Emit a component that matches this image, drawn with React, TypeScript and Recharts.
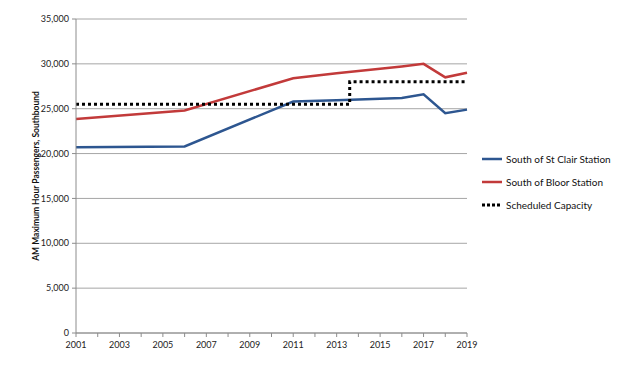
import { LineChart, Line, XAxis, YAxis, CartesianGrid } from "recharts";

const YEARS = [2001, 2006, 2011, 2013, 2016, 2017, 2018, 2019];
const ST_CLAIR = [20700, 20800, 25800, 25950, 26200, 26600, 24500, 24900];
const BLOOR = [23850, 24800, 28400, 28950, 29700, 30000, 28500, 29000];

const CAPACITY_YEARS = [2001, 2013.6, 2013.6, 2018.9];
const CAPACITY = [25500, 25500, 28000, 28000];

const X_TICKS = Array.from({ length: 19 }, (_, i) => 2001 + i);
const Y_TICKS = [0, 5000, 10000, 15000, 20000, 25000, 30000, 35000];

const LEGEND = [
  { name: "South of St Clair Station", color: "#2d5690", dash: undefined },
  { name: "South of Bloor Station", color: "#c23a3a", dash: undefined },
  { name: "Scheduled Capacity", color: "#000000", dash: "3 2" },
];

const FONT = "Lato, 'Open Sans', sans-serif";

const ridership = YEARS.map((y, i) => ({ year: y, stclair: ST_CLAIR[i], bloor: BLOOR[i] }));
const capacity = CAPACITY_YEARS.map((y, i) => ({ year: y, cap: CAPACITY[i] }));

export default function App() {
  return (
    <div style={{ position: "absolute", left: 0, top: 0, width: 639, height: 366, background: "#fff" }}>
      <LineChart width={639} height={366} margin={{ top: 19, right: 172, bottom: 0, left: 0 }}>
        <CartesianGrid vertical={false} stroke="#a6a6a6" strokeWidth={1} />
        <XAxis
          type="number"
          dataKey="year"
          domain={[2001, 2019]}
          ticks={X_TICKS}
          interval={0}
          height={33}
          allowDuplicatedCategory={false}
          tickFormatter={(v: number) => (v % 2 === 1 ? String(v) : "")}
          tick={{ fontSize: 9, fill: "#222", fontFamily: FONT, dy: 3 }}
          tickSize={4}
          stroke="#8c8c8c"
        />
        <YAxis
          type="number"
          domain={[0, 35000]}
          ticks={Y_TICKS}
          width={76}
          tickFormatter={(v: number) => v.toLocaleString("en-US")}
          tick={{ fontSize: 9, fill: "#222", fontFamily: FONT }}
          tickSize={4}
          tickMargin={3}
          stroke="#8c8c8c"
          label={{
            value: "AM Maximum Hour Passengers, Southbound",
            angle: -90,
            position: "insideLeft",
            dx: 31,
            style: { fontSize: 8.5, fontWeight: 700, fill: "#111", fontFamily: FONT, textAnchor: "middle" },
          }}
        />
        <Line
          data={ridership}
          dataKey="stclair"
          stroke="#2d5690"
          strokeWidth={2.5}
          dot={false}
          type="linear"
          isAnimationActive={false}
        />
        <Line
          data={ridership}
          dataKey="bloor"
          stroke="#c23a3a"
          strokeWidth={2.5}
          dot={false}
          type="linear"
          isAnimationActive={false}
        />
        <Line
          data={capacity}
          dataKey="cap"
          stroke="#000"
          strokeWidth={3}
          strokeDasharray="3 3"
          dot={false}
          type="linear"
          isAnimationActive={false}
        />
      </LineChart>
      <div style={{ position: "absolute", left: 482, top: 147, fontFamily: FONT, fontSize: 10, color: "#111" }}>
        {LEGEND.map((item) => (
          <div key={item.name} style={{ display: "flex", alignItems: "center", height: 23 }}>
            <svg width={22} height={6} style={{ marginRight: 2 }}>
              <line
                x1={0}
                y1={3}
                x2={20}
                y2={3}
                stroke={item.color}
                strokeWidth={item.dash ? 3 : 2.5}
                strokeDasharray={item.dash}
              />
            </svg>
            <span>{item.name}</span>
          </div>
        ))}
      </div>
    </div>
  );
}
